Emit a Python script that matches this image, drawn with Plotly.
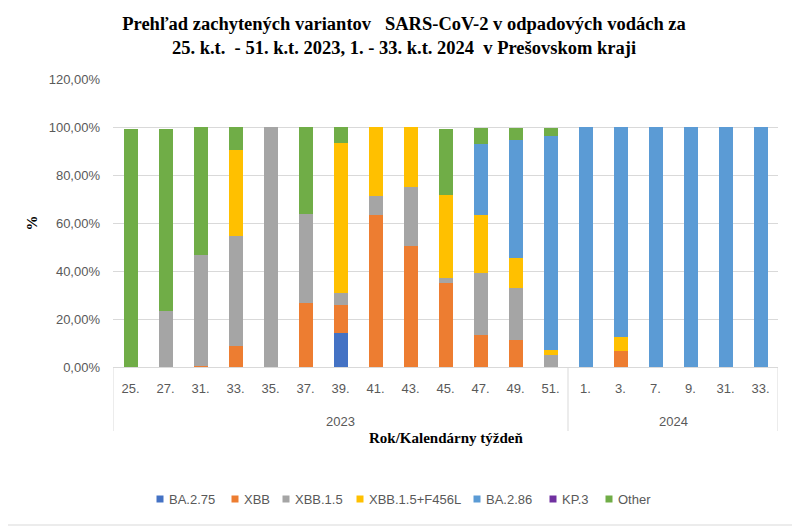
import plotly.graph_objects as go

years = ["2023"] * 13 + ["2024"] * 6
weeks = ["25.", "27.", "31.", "33.", "35.", "37.", "39.", "41.", "43.", "45.", "47.", "49.", "51.",
         "1.", "3.", "7.", "9.", "31.", "33."]

ba275 = [0, 0, 0, 0, 0, 0, 14.1, 0, 0, 0, 0, 0, 0, 0, 0, 0, 0, 0, 0]
xbb = [0, 0, 0.5, 8.9, 0, 26.6, 11.7, 63.5, 50.3, 35.0, 13.2, 11.2, 0, 0, 6.5, 0, 0, 0, 0]
xbb15 = [0, 23.3, 46.2, 45.5, 100, 37.2, 5.0, 7.8, 24.6, 1.9, 25.8, 21.9, 5.0, 0, 0, 0, 0, 0, 0]
xbb15f = [0, 0, 0, 36.2, 0, 0, 62.5, 28.7, 25.1, 34.9, 24.5, 12.3, 2.2, 0, 5.8, 0, 0, 0, 0]
ba286 = [0, 0, 0, 0, 0, 0, 0, 0, 0, 0, 29.6, 49.3, 89.1, 100, 87.7, 100, 100, 100, 100]
kp3 = [0] * 19
other = [99.0, 76.0, 53.3, 9.4, 0, 36.2, 6.7, 0, 0, 27.2, 6.3, 4.7, 3.1, 0, 0, 0, 0, 0, 0]

series_names = ["BA.2.75", "XBB", "XBB.1.5", "XBB.1.5+F456L", "BA.2.86", "KP.3", "Other"]
series_values = [ba275, xbb, xbb15, xbb15f, ba286, kp3, other]
series_colors = ["#4472C4", "#ED7D31", "#A5A5A5", "#FFC000", "#5B9BD5", "#7030A0", "#70AD47"]

# page layout (pixels in the 800x528 page); the page body has an 8px margin
OFF = 8
W, H = 800 - OFF, 528 - OFF
plot_left, plot_right, plot_top, plot_bottom = 113, 778, 79, 367
L = plot_left - OFF
R = W - (plot_right - OFF)
T = plot_top - OFF
B = H - (plot_bottom - OFF)
pw, ph = W - L - R, H - T - B

def px(page_x):
    return (page_x - OFF - L) / pw

def py(page_y):
    return (H - B - (page_y - OFF)) / ph

# legend key centres (page x) and legend row (page y)
legend_key_x = [160, 235, 286, 360, 477, 553, 609]
legend_y = 499
key_half = 3.5

idx = list(range(len(weeks)))

fig = go.Figure()
for name, vals, col in zip(series_names, series_values, series_colors):
    fig.add_trace(go.Bar(
        x=idx, y=[v / 100 for v in vals], name=name,
        marker=dict(color=col, line=dict(width=0)),
        showlegend=False,
    ))

# year groups derived from the data
groups = []
for i, yv in enumerate(years):
    if not groups or groups[-1][0] != yv:
        groups.append([yv, i, i])
    else:
        groups[-1][2] = i

grid_c = "#D9D9D9"
shapes = [dict(
    type="rect", xref="paper", yref="paper", layer="below",
    x0=px(2), x1=px(797), y0=py(525), y1=py(2),
    line=dict(color=grid_c, width=1), fillcolor="rgba(0,0,0,0)",
)]
annotations = []
bounds = [groups[0][1] - 0.5] + [g[2] + 0.5 for g in groups]
for bx in bounds:
    shapes.append(dict(type="line", xref="x", yref="paper", x0=bx, x1=bx,
                       y0=0, y1=py(431), line=dict(color=grid_c, width=1)))
for g in groups:
    annotations.append(dict(
        text=g[0], xref="x", yref="paper", x=(g[1] + g[2]) / 2, y=py(421),
        xanchor="center", yanchor="middle", showarrow=False,
        font=dict(family="Liberation Sans", size=13, color="#595959"),
    ))
annotations.append(dict(
    text="Rok/Kalendárny týždeň", xref="paper", yref="paper", x=0.5, y=py(438),
    xanchor="center", yanchor="middle", showarrow=False,
    font=dict(family="Liberation Serif", size=15, color="black", weight="bold"),
))

# legend row
for name, col, kx in zip(series_names, series_colors, legend_key_x):
    shapes.append(dict(
        type="rect", xref="paper", yref="paper",
        x0=px(kx - key_half), x1=px(kx + key_half),
        y0=py(legend_y + key_half), y1=py(legend_y - key_half),
        fillcolor=col, line=dict(width=0),
    ))
    annotations.append(dict(
        text=name, xref="paper", yref="paper", x=px(kx + 7), y=py(legend_y),
        xanchor="left", yanchor="middle", showarrow=False,
        font=dict(family="Liberation Sans", size=13, color="#595959"),
    ))

fig.update_layout(
    width=W, height=H,
    barmode="stack", bargap=0.6,
    separators=", ",
    margin=dict(l=L, r=R, t=T, b=B),
    paper_bgcolor="white", plot_bgcolor="white",
    font=dict(family="Liberation Sans", color="#595959", size=12),
    showlegend=False,
    title=dict(
        text="Prehľad zachytených variantov   SARS-CoV-2 v odpadových vodách za<br>25. k.t.  - 51. k.t. 2023, 1. - 33. k.t. 2024  v Prešovskom kraji",
        x=0.5, xanchor="center", y=1 - 21.5 / H, yanchor="middle",
        font=dict(family="Liberation Serif", size=18.5, color="black", weight="bold"),
    ),
    yaxis=dict(
        range=[0, 1.2], dtick=0.2, tickformat=".2%",
        showgrid=True, gridcolor=grid_c, gridwidth=1,
        zeroline=False, showline=False, ticks="", automargin=False,
        ticklabelstandoff=12,
        title=dict(text="%", font=dict(family="Liberation Serif", size=15, color="black", weight="bold"), standoff=7),
        tickfont=dict(size=13, color="#595959"),
    ),
    xaxis=dict(
        range=[-0.5, len(weeks) - 0.5],
        tickmode="array", tickvals=idx, ticktext=weeks,
        showline=True, linecolor=grid_c, linewidth=1,
        ticks="", showgrid=False, zeroline=False, automargin=False,
        ticklabelstandoff=9,
        tickfont=dict(size=13, color="#595959"),
    ),
    shapes=shapes,
    annotations=annotations,
)

fig.write_html("out.html")
